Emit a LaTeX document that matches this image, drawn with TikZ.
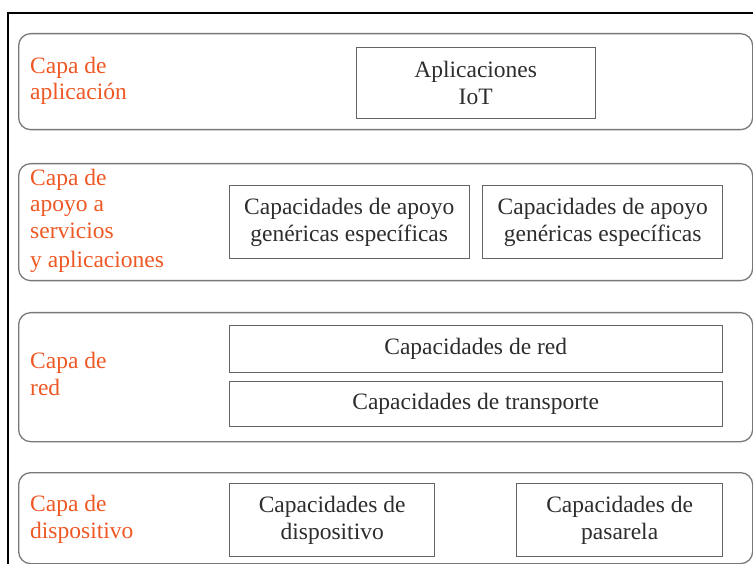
\documentclass[tikz,border=0pt]{standalone}
\usepackage{fontspec}
\setmainfont{Liberation Serif}
\newfontfamily\capfont{Liberation Serif}
\usepackage{xcolor}
\definecolor{labelred}{RGB}{238,88,36}
\definecolor{layergray}{RGB}{120,120,120}
\definecolor{boxgray}{RGB}{100,100,100}
\definecolor{textdark}{RGB}{45,45,45}
\tikzset{
  layer/.style={draw=layergray, line width=1.3pt, rounded corners=12pt, anchor=north west, inner sep=0pt},
  capbox/.style={draw=boxgray, line width=1.4pt, anchor=north west, inner sep=0pt, align=center, text=textdark,
    font=\capfont\fontsize{23.5}{26.5}\selectfont},
  layername/.style={anchor=base west, inner sep=0pt, align=left, text=labelred,
    font=\capfont\fontsize{23.5}{26.5}\selectfont}
}
\begin{document}
\begin{tikzpicture}[x=1pt,y=-1pt]
                    \useasboundingbox (0,0) rectangle (753,564);
                    
                    % Drawing outer frame
                    \draw [line width=2pt] (8,564) -- (8,13) -- (753,13);%
                    
                    % Drawing layer rounded boxes
                    \node [layer, minimum width=734pt, minimum height=96pt] (appLayer) at (18,33) {};%
                    \node [layer, minimum width=734pt, minimum height=117pt] (supLayer) at (18,163) {};%
                    \node [layer, minimum width=734pt, minimum height=129pt] (netLayer) at (18,312) {};%
                    \node [layer, minimum width=734pt, minimum height=91pt] (devLayer) at (18,472) {};%
                    
                    % Marking layer names (base is the last line)
                    \node [layername] (appName) at (30,100) {Capa de\\aplicación};%
                    \node [layername] (supName) at (30,268) {Capa de\\apoyo a\\servicios\\[3pt]y aplicaciones};%
                    \node [layername] (netName) at (30,395) {Capa de\\red};%
                    \node [layername] (devName) at (30,538) {Capa de\\dispositivo};%
                    
                    % Drawing capability boxes of application layer
                    \node [capbox, minimum width=239pt, minimum height=71pt] (iotApps) at (355.5,47) {Aplicaciones\\IoT};%
                    
                    % Drawing capability boxes of support layer
                    \node [capbox, minimum width=240pt, minimum height=73pt] (supGenA) at (228.5,185) {Capacidades de apoyo\\genéricas específicas};%
                    \node [capbox, minimum width=240pt, minimum height=73pt] (supGenB) at (482,185) {Capacidades de apoyo\\genéricas específicas};%
                    
                    % Drawing capability boxes of network layer
                    \node [capbox, minimum width=493pt, minimum height=47pt] (netCap) at (228.5,325) {Capacidades de red};%
                    \node [capbox, minimum width=493pt, minimum height=45pt] (transCap) at (228.5,381) {Capacidades de transporte};%
                    
                    % Drawing capability boxes of device layer
                    \node [capbox, minimum width=205pt, minimum height=73pt] (devCap) at (229,483) {Capacidades de\\dispositivo};%
                    \node [capbox, minimum width=206pt, minimum height=73pt] (gwCap) at (516,483) {Capacidades de\\pasarela};%
                \end{tikzpicture}
\end{document}
